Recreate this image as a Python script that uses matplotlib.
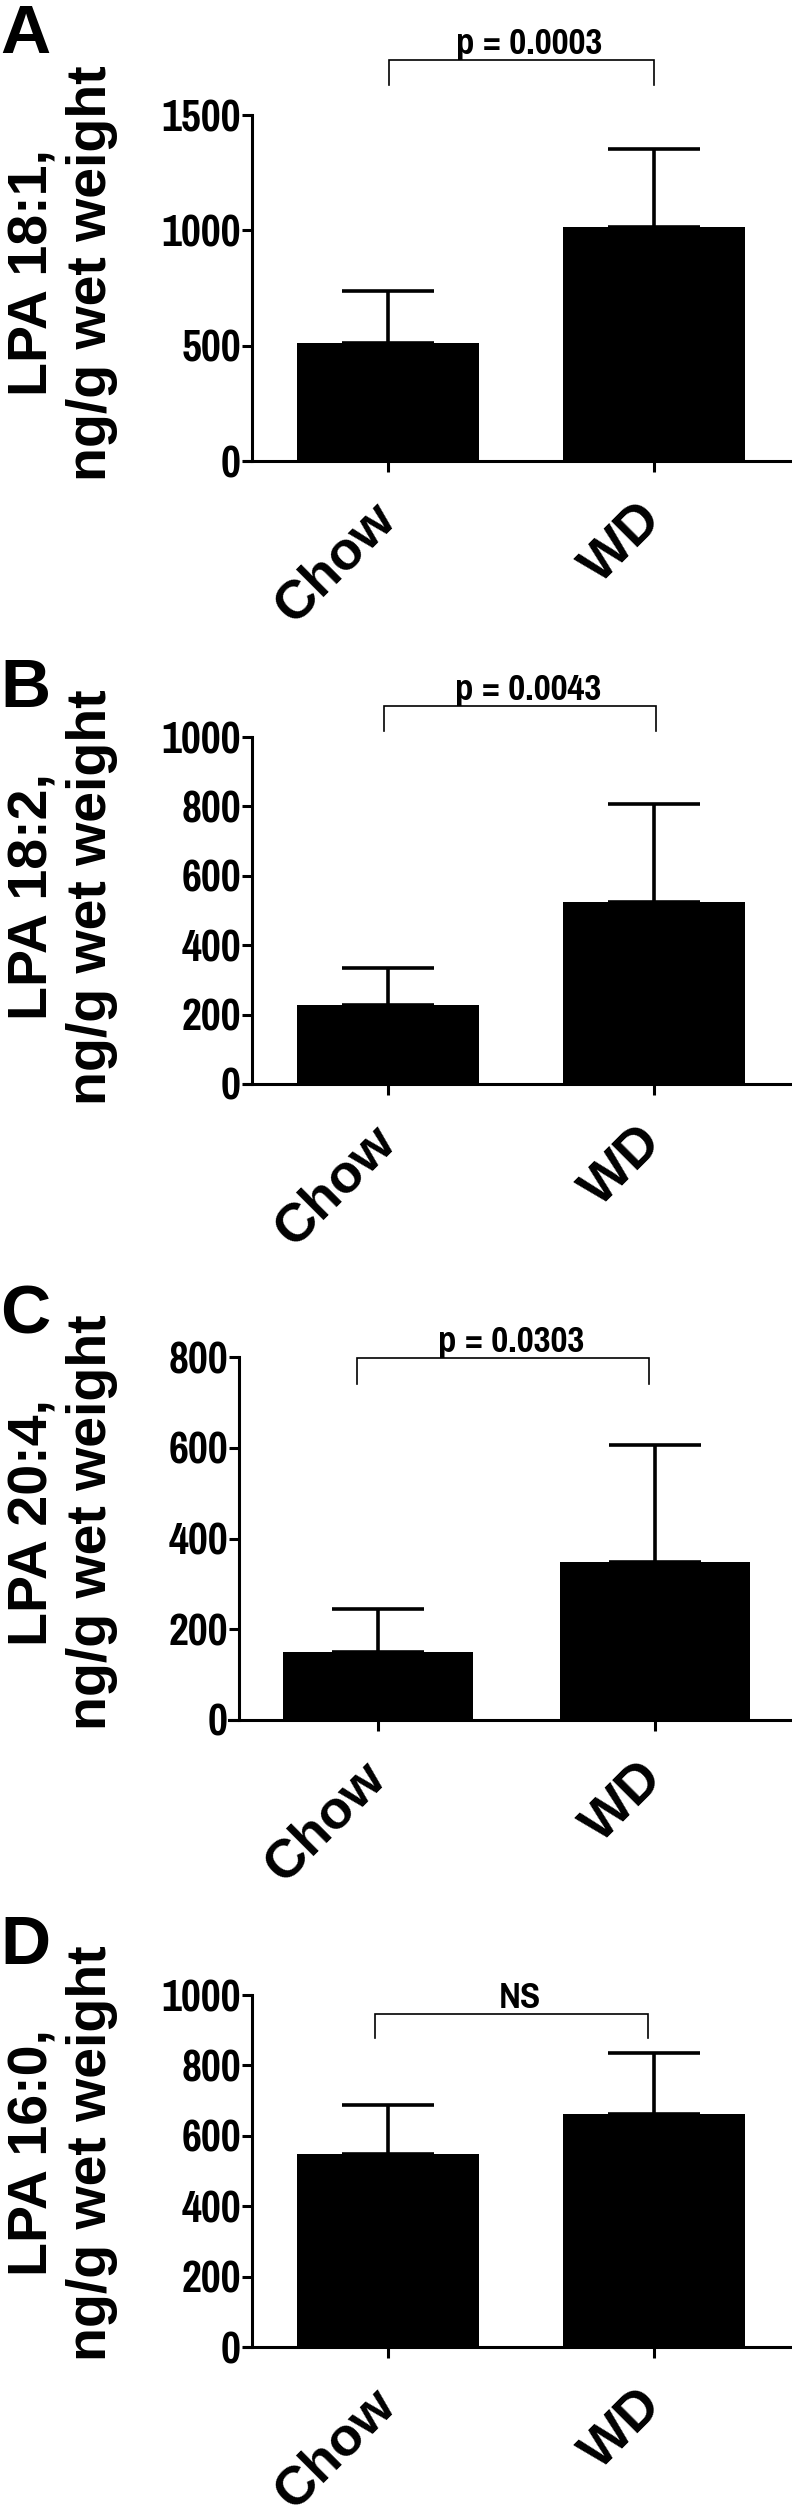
import matplotlib.pyplot as plt

# Data (group means and upper error, ng/g wet weight)
groups = ["Chow", "WD"]
lpa_181_mean = [513, 1016]
lpa_181_err = [224, 337]
lpa_182_mean = [227, 525]
lpa_182_err = [107, 281]
lpa_204_mean = [149, 349]
lpa_204_err = [95, 257]
lpa_160_mean = [547, 661]
lpa_160_err = [140, 173]

panel_letters = ["A", "B", "C", "D"]
y_labels = ["LPA 18:1,\nng/g wet weight", "LPA 18:2,\nng/g wet weight",
            "LPA 20:4,\nng/g wet weight", "LPA 16:0,\nng/g wet weight"]
y_ticks = [[0, 500, 1000, 1500], [0, 200, 400, 600, 800, 1000],
           [0, 200, 400, 600, 800], [0, 200, 400, 600, 800, 1000]]
p_texts = ["p = 0.0003", "p = 0.0043", "p = 0.0303", "NS"]

means = [lpa_181_mean, lpa_182_mean, lpa_204_mean, lpa_160_mean]
errs = [lpa_181_err, lpa_182_err, lpa_204_err, lpa_160_err]

# Layout in pixels of the 792 x 2516 figure
W, H = 792, 2516
layout = [
    dict(top=115, bottom=461, x0=244, spine=252, right=790, c0=388, c1=654,
         br=(389, 654, 60, 85), letter=3, lab_y=273),
    dict(top=737, bottom=1084, x0=244, spine=252, right=790, c0=388, c1=654,
         br=(384, 656, 706, 731), letter=657, lab_y=897),
    dict(top=1357, bottom=1720, x0=229, spine=239, right=792, c0=378, c1=655,
         br=(357, 649, 1358, 1384), letter=1283, lab_y=1522),
    dict(top=1995, bottom=2347, x0=244, spine=252, right=790, c0=388, c1=654,
         br=(375, 648, 2014, 2038), letter=1914, lab_y=2153),
]

bold = dict(family=["Liberation Sans", "DejaVu Sans"], weight="bold")
narrow = dict(family=["Pragati Narrow", "Barlow Condensed", "Roboto Condensed",
                      "Liberation Sans"], weight="bold")
lw = 2.2

fig = plt.figure(figsize=(W / 100, H / 100), dpi=100)

for i in range(4):
    L = layout[i]
    ymax = y_ticks[i][-1]
    ax = fig.add_axes([L["x0"] / W, 1 - L["bottom"] / H,
                       (L["right"] - L["x0"]) / W, (L["bottom"] - L["top"]) / H])
    unit = L["c1"] - L["c0"]
    ax.set_xlim((L["x0"] - L["c0"]) / unit, (L["right"] - L["c0"]) / unit)
    ax.set_ylim(0, ymax)

    def py2d(py):
        return ymax * (L["bottom"] - py) / (L["bottom"] - L["top"])

    def px2d(px):
        return (px - L["c0"]) / unit

    x = [0, 1]
    ax.bar(x, means[i], width=0.685, color="black", zorder=2)
    ax.errorbar(x, means[i], yerr=[[0, 0], errs[i]], fmt="none", ecolor="black",
                elinewidth=2.6, capsize=33, capthick=2.6, zorder=3)

    for s in ["top", "right"]:
        ax.spines[s].set_visible(False)
    ax.spines["left"].set_position(("data", px2d(L["spine"])))
    ax.spines["left"].set_bounds(0, ymax)
    ax.spines["left"].set_linewidth(lw)
    ax.spines["bottom"].set_linewidth(lw)

    ax.set_yticks(y_ticks[i])
    ax.set_yticklabels([str(t) for t in y_ticks[i]], fontsize=34, **narrow)
    ax.tick_params(axis="y", length=7, width=lw, pad=1)
    ax.set_xticks(x)
    ax.set_xticklabels(groups, fontsize=39, rotation=45, ha="right", va="center",
                       rotation_mode="anchor", **bold)
    ax.tick_params(axis="x", length=8, width=lw, pad=28)

    # significance bracket
    bx0, bx1, by_top, by_bot = L["br"]
    ax.plot([px2d(bx0), px2d(bx0), px2d(bx1), px2d(bx1)],
            [py2d(by_bot), py2d(by_top), py2d(by_top), py2d(by_bot)],
            color="black", lw=1.2, clip_on=False, solid_joinstyle="miter")
    ax.annotate(p_texts[i], xy=((px2d(bx0) + px2d(bx1)) / 2 + 0.03, py2d(by_top)),
                xytext=(0, 4), textcoords="offset points", ha="center",
                va="baseline", fontsize=29, annotation_clip=False, **narrow)

    fig.text(0.0, 1 - L["letter"] / H, panel_letters[i], fontsize=50,
             ha="left", va="top", **bold)
    fig.text(63 / W, 1 - L["lab_y"] / H, y_labels[i], fontsize=40, rotation=90,
             ha="center", va="center", multialignment="center", linespacing=1.15,
             **bold)

fig.savefig("out.png", dpi=100)
